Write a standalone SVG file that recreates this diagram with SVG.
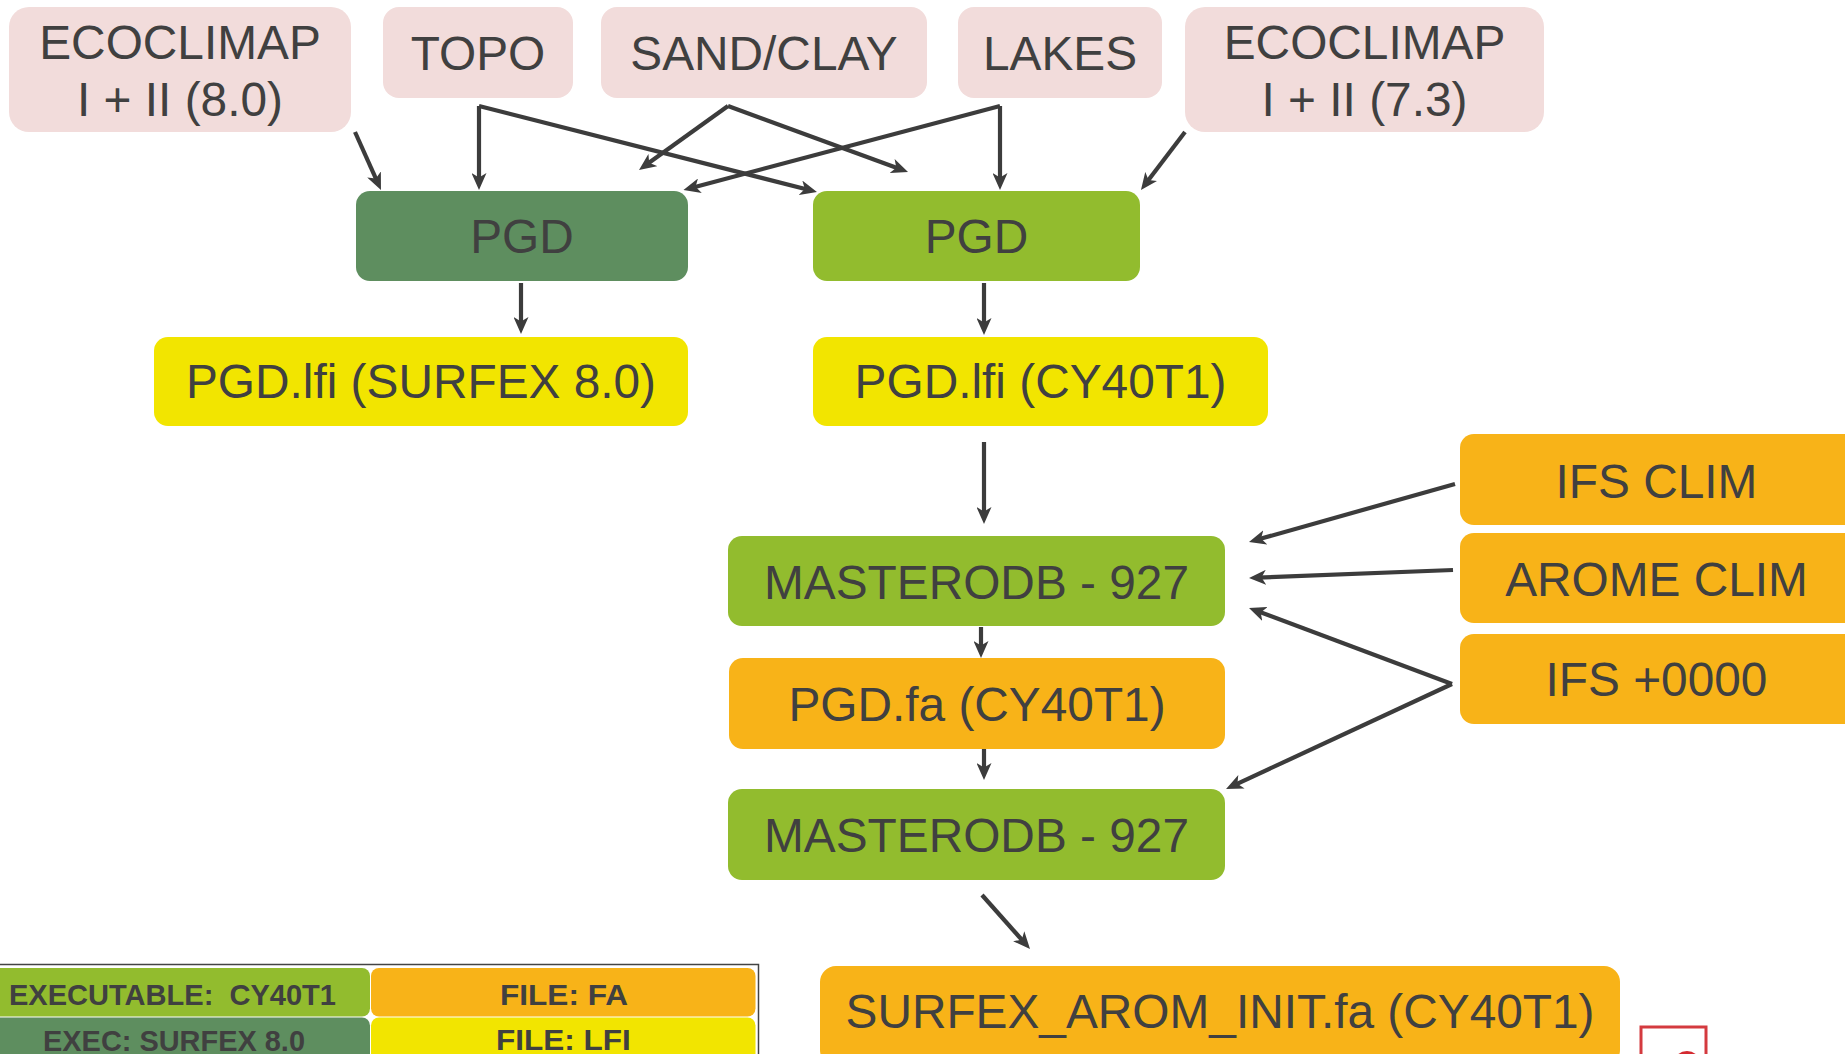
<svg xmlns="http://www.w3.org/2000/svg" width="1845" height="1054" viewBox="0 0 1845 1054">
<style>
.t{font-family:"Liberation Sans",Arial,sans-serif;font-size:47.8px;fill:#404040;text-anchor:middle}
.lg{font-family:"Liberation Sans",Arial,sans-serif;font-size:30px;font-weight:bold;fill:#404040;text-anchor:middle;white-space:pre}
.pink{fill:#F2DCDB}
.dg{fill:#5E8E5F}
.lgr{fill:#92BC2E}
.yel{fill:#F2E500}
.org{fill:#F8B318}
.c line{stroke:#3C3C3C;stroke-width:4.2;marker-end:url(#ah)}
</style>
<defs>
<marker id="ah" markerUnits="userSpaceOnUse" markerWidth="17" markerHeight="15" refX="9" refY="7.5" orient="auto" viewBox="0 0 17 15">
<path d="M0,0 L17,7.5 L0,15 L4.5,7.5 z" fill="#3C3C3C"/>
</marker>
</defs>
<rect width="1845" height="1054" fill="#FFFFFF"/>
<g id="eco80"><rect class="pink" x="9" y="7" width="342" height="125" rx="20"/><text class="t" x="180" y="59">ECOCLIMAP</text><text class="t" x="180" y="116">I + II (8.0)</text></g>
<g id="topo"><rect class="pink" x="383" y="7" width="190" height="91" rx="16"/><text class="t" x="478" y="70">TOPO</text></g>
<g id="sandclay"><rect class="pink" x="601" y="7" width="326" height="91" rx="16"/><text class="t" x="764" y="70">SAND/CLAY</text></g>
<g id="lakes"><rect class="pink" x="958" y="7" width="204" height="91" rx="16"/><text class="t" x="1060" y="70">LAKES</text></g>
<g id="eco73"><rect class="pink" x="1185" y="7" width="359" height="125" rx="20"/><text class="t" x="1364.5" y="59">ECOCLIMAP</text><text class="t" x="1364.5" y="116">I + II (7.3)</text></g>
<g id="pgd_surfex"><rect class="dg" x="356" y="191" width="332" height="90" rx="14"/><text class="t" x="522" y="253">PGD</text></g>
<g id="pgd_cy40"><rect class="lgr" x="813" y="191" width="327" height="90" rx="14"/><text class="t" x="976.5" y="253">PGD</text></g>
<g id="lfi_surfex"><rect class="yel" x="154" y="337" width="534" height="89" rx="14"/><text class="t" x="421" y="398">PGD.lfi (SURFEX 8.0)</text></g>
<g id="lfi_cy40"><rect class="yel" x="813" y="337" width="455" height="89" rx="14"/><text class="t" x="1040.5" y="398">PGD.lfi (CY40T1)</text></g>
<g id="masterodb1"><rect class="lgr" x="728" y="536" width="497" height="90" rx="14"/><text class="t" x="976.5" y="599">MASTERODB - 927</text></g>
<g id="pgdfa"><rect class="org" x="729" y="658" width="496" height="91" rx="14"/><text class="t" x="977" y="721">PGD.fa (CY40T1)</text></g>
<g id="masterodb2"><rect class="lgr" x="728" y="789" width="497" height="91" rx="14"/><text class="t" x="976.5" y="852">MASTERODB - 927</text></g>
<g id="ifsclim"><rect class="org" x="1460" y="434" width="400" height="91" rx="14"/><text class="t" x="1656.5" y="498">IFS CLIM</text></g>
<g id="aromeclim"><rect class="org" x="1460" y="533" width="400" height="90" rx="14"/><text class="t" x="1656.5" y="596">AROME CLIM</text></g>
<g id="ifs0000"><rect class="org" x="1460" y="634" width="400" height="90" rx="14"/><text class="t" x="1656.5" y="696">IFS +0000</text></g>
<g id="surfexinit"><rect class="org" x="820" y="966" width="800" height="100" rx="16"/><text class="t" x="1220" y="1028">SURFEX_AROM_INIT.fa (CY40T1)</text></g>
<g id="connectors" class="c">
<line x1="355" y1="132" x2="377.7" y2="182.7"/>
<line x1="479" y1="106" x2="479" y2="182"/>
<line x1="479" y1="106" x2="809.2" y2="190"/>
<line x1="728" y1="106" x2="645.5" y2="165.3"/>
<line x1="728" y1="106" x2="900.5" y2="169.2"/>
<line x1="1000" y1="106" x2="1000" y2="182"/>
<line x1="1000" y1="106" x2="691.2" y2="188"/>
<line x1="1185" y1="132" x2="1145.8" y2="183.6"/>
<line x1="521" y1="283" x2="521" y2="326"/>
<line x1="984" y1="283" x2="984" y2="327"/>
<line x1="984" y1="442" x2="984" y2="516"/>
<line x1="981" y1="627" x2="981" y2="650"/>
<line x1="984" y1="749" x2="984" y2="772"/>
<line x1="1455" y1="484" x2="1256.7" y2="539.8"/>
<line x1="1453" y1="570" x2="1257" y2="577.7"/>
<line x1="1452" y1="684" x2="1256.5" y2="610.8"/>
<line x1="1452" y1="684" x2="1233.3" y2="785.6"/>
<line x1="982" y1="895" x2="1024.7" y2="943"/>
</g>
<g id="legend">
<rect x="-5" y="964.5" width="763.5" height="100" fill="#FFFFFF" stroke="#444444" stroke-width="1.5"/>
<rect class="lgr" x="-20" y="968" width="390" height="48.5" rx="8"/>
<rect class="org" x="371" y="968" width="384.5" height="48.5" rx="8"/>
<rect class="dg" x="-20" y="1017.5" width="390" height="60" rx="8"/>
<rect class="yel" x="371" y="1017.5" width="384.5" height="60" rx="8"/>
<text class="lg" x="172.5" y="1004.5" textLength="327" lengthAdjust="spacingAndGlyphs" xml:space="preserve">EXECUTABLE:  CY40T1</text>
<text class="lg" x="564" y="1005" textLength="128" lengthAdjust="spacingAndGlyphs">FILE: FA</text>
<text class="lg" x="174" y="1051" textLength="262" lengthAdjust="spacingAndGlyphs">EXEC: SURFEX 8.0</text>
<text class="lg" x="563.3" y="1050" textLength="134.7" lengthAdjust="spacingAndGlyphs">FILE: LFI</text>
</g>
<g id="redmark">
<rect x="1641" y="1027" width="65" height="45" fill="#FFFFFF" stroke="#D43A3F" stroke-width="3"/>
<circle cx="1687" cy="1065" r="14" fill="#D42A30"/>
</g>
</svg>
